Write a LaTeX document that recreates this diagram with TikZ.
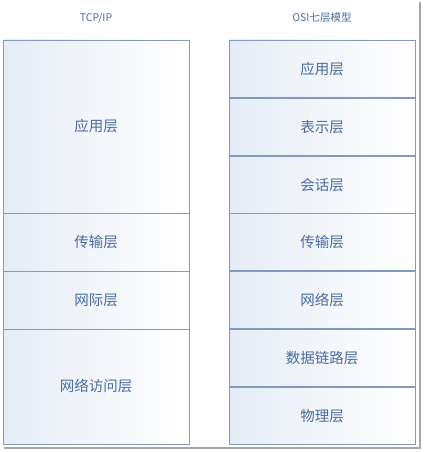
\documentclass[tikz,border=0pt]{standalone}
\usepackage{fontspec}
\setmainfont{Noto Sans CJK SC}
\usepackage{tikz}
\definecolor{layerline}{RGB}{127,155,191}
\definecolor{layertext}{RGB}{74,108,160}
\definecolor{layertop}{RGB}{230,236,245}
\begin{document}
\begin{tikzpicture}[x=1pt,y=-1pt,
    layer/.style={draw=layerline,line width=0.9pt,shading=axis,shading angle=-30,
        left color=layertop,right color=white},
    label/.style={text=layertext,font=\fontsize{14.5}{16}\selectfont},
    title/.style={text=layertext,font=\fontsize{10.5}{12}\selectfont}]
    \useasboundingbox (0,0) rectangle (424,452);
    % 截图阴影
    \draw[gray!70,line width=1.5pt] (420,2) -- (420,448) -- (4,448);

    % TCP/IP
    \node[title] (tcpip) at (96,18) {TCP/IP};
    \draw[layer] (3,40) rectangle (189,213);
    \node[label] (tapp) at (96,126) {应用层};
    \draw[layer] (3,213) rectangle (189,271);
    \node[label] (ttrans) at (96,242) {传输层};
    \draw[layer] (3,271) rectangle (189,329);
    \node[label] (tnet) at (96,300) {网际层};
    \draw[layer] (3,329) rectangle (189,444);
    \node[label] (tlink) at (96,386) {网络访问层};

    % OSI七层模型
    \node[title] (osi) at (322,18) {OSI七层模型};
    \foreach \y/\name/\txt in {40/oapp/应用层,98/opres/表示层,156/osess/会话层,
            213/otrans/传输层,271/onet/网络层,329/olink/数据链路层,387/ophys/物理层}{
        \draw[layer] (229,\y) rectangle (415,\y+57.5);
        \node[label] (\name) at (322,\y+28.8) {\txt};
    }
\end{tikzpicture}
\end{document}
